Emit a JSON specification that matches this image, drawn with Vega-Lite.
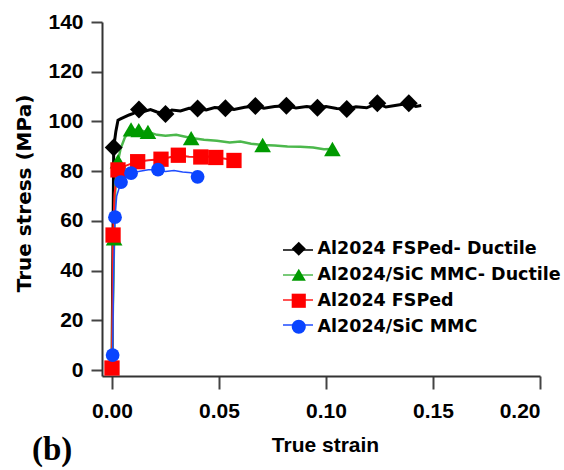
{
  "$schema": "https://vega.github.io/schema/vega-lite/v6.json",
  "width": 438,
  "height": 354,
  "autosize": "none",
  "padding": {"left": 102, "top": 22, "right": 24, "bottom": 94},
  "background": "white",
  "config": {"view": {"stroke": null}},
  "title": {"text": "(b)", "orient": "top", "anchor": "start", "frame": "group", "font": "Liberation Serif", "fontSize": 33, "fontWeight": "bold", "color": "black", "baseline": "bottom", "offset": 0, "dx": -70, "dy": 489},
  "data": {"values": [
    {"series": "Al2024 FSPed- Ductile", "strain": 0, "stress": 0, "m": 0},
    {"series": "Al2024 FSPed- Ductile", "strain": 0.0004, "stress": 45, "m": 0},
    {"series": "Al2024 FSPed- Ductile", "strain": 0.0008, "stress": 89.5, "m": 1},
    {"series": "Al2024 FSPed- Ductile", "strain": 0.0018, "stress": 96, "m": 0},
    {"series": "Al2024 FSPed- Ductile", "strain": 0.0028, "stress": 100.5, "m": 0},
    {"series": "Al2024 FSPed- Ductile", "strain": 0.004, "stress": 101, "m": 0},
    {"series": "Al2024 FSPed- Ductile", "strain": 0.006, "stress": 101.8, "m": 0},
    {"series": "Al2024 FSPed- Ductile", "strain": 0.008, "stress": 102.6, "m": 0},
    {"series": "Al2024 FSPed- Ductile", "strain": 0.010, "stress": 103.2, "m": 0},
    {"series": "Al2024 FSPed- Ductile", "strain": 0.0126, "stress": 104.8, "m": 1},
    {"series": "Al2024 FSPed- Ductile", "strain": 0.015, "stress": 104.0, "m": 0},
    {"series": "Al2024 FSPed- Ductile", "strain": 0.018, "stress": 104.8, "m": 0},
    {"series": "Al2024 FSPed- Ductile", "strain": 0.021, "stress": 103.8, "m": 0},
    {"series": "Al2024 FSPed- Ductile", "strain": 0.025, "stress": 103.0, "m": 1},
    {"series": "Al2024 FSPed- Ductile", "strain": 0.028, "stress": 104.6, "m": 0},
    {"series": "Al2024 FSPed- Ductile", "strain": 0.032, "stress": 104.2, "m": 0},
    {"series": "Al2024 FSPed- Ductile", "strain": 0.036, "stress": 105.3, "m": 0},
    {"series": "Al2024 FSPed- Ductile", "strain": 0.040, "stress": 105.2, "m": 1},
    {"series": "Al2024 FSPed- Ductile", "strain": 0.044, "stress": 104.6, "m": 0},
    {"series": "Al2024 FSPed- Ductile", "strain": 0.048, "stress": 105.6, "m": 0},
    {"series": "Al2024 FSPed- Ductile", "strain": 0.053, "stress": 105.3, "m": 1},
    {"series": "Al2024 FSPed- Ductile", "strain": 0.057, "stress": 104.8, "m": 0},
    {"series": "Al2024 FSPed- Ductile", "strain": 0.062, "stress": 105.7, "m": 0},
    {"series": "Al2024 FSPed- Ductile", "strain": 0.067, "stress": 106.2, "m": 1},
    {"series": "Al2024 FSPed- Ductile", "strain": 0.071, "stress": 105.3, "m": 0},
    {"series": "Al2024 FSPed- Ductile", "strain": 0.076, "stress": 106.0, "m": 0},
    {"series": "Al2024 FSPed- Ductile", "strain": 0.0815, "stress": 106.3, "m": 1},
    {"series": "Al2024 FSPed- Ductile", "strain": 0.086, "stress": 105.4, "m": 0},
    {"series": "Al2024 FSPed- Ductile", "strain": 0.091, "stress": 106.0, "m": 0},
    {"series": "Al2024 FSPed- Ductile", "strain": 0.096, "stress": 105.5, "m": 1},
    {"series": "Al2024 FSPed- Ductile", "strain": 0.100, "stress": 106.0, "m": 0},
    {"series": "Al2024 FSPed- Ductile", "strain": 0.105, "stress": 105.2, "m": 0},
    {"series": "Al2024 FSPed- Ductile", "strain": 0.1097, "stress": 105.0, "m": 1},
    {"series": "Al2024 FSPed- Ductile", "strain": 0.114, "stress": 105.9, "m": 0},
    {"series": "Al2024 FSPed- Ductile", "strain": 0.119, "stress": 105.5, "m": 0},
    {"series": "Al2024 FSPed- Ductile", "strain": 0.124, "stress": 107.3, "m": 1},
    {"series": "Al2024 FSPed- Ductile", "strain": 0.128, "stress": 105.8, "m": 0},
    {"series": "Al2024 FSPed- Ductile", "strain": 0.133, "stress": 106.5, "m": 0},
    {"series": "Al2024 FSPed- Ductile", "strain": 0.1387, "stress": 107.3, "m": 1},
    {"series": "Al2024 FSPed- Ductile", "strain": 0.142, "stress": 106.0, "m": 0},
    {"series": "Al2024 FSPed- Ductile", "strain": 0.1445, "stress": 106.4, "m": 0},
    {"series": "Al2024/SiC MMC- Ductile", "strain": 0, "stress": 0, "m": 0},
    {"series": "Al2024/SiC MMC- Ductile", "strain": 0.0005, "stress": 30, "m": 0},
    {"series": "Al2024/SiC MMC- Ductile", "strain": 0.001, "stress": 53, "m": 1},
    {"series": "Al2024/SiC MMC- Ductile", "strain": 0.0016, "stress": 75, "m": 0},
    {"series": "Al2024/SiC MMC- Ductile", "strain": 0.0028, "stress": 84, "m": 1},
    {"series": "Al2024/SiC MMC- Ductile", "strain": 0.004, "stress": 89, "m": 0},
    {"series": "Al2024/SiC MMC- Ductile", "strain": 0.006, "stress": 93.5, "m": 0},
    {"series": "Al2024/SiC MMC- Ductile", "strain": 0.0089, "stress": 96.8, "m": 1},
    {"series": "Al2024/SiC MMC- Ductile", "strain": 0.0125, "stress": 96.5, "m": 1},
    {"series": "Al2024/SiC MMC- Ductile", "strain": 0.0168, "stress": 95.8, "m": 1},
    {"series": "Al2024/SiC MMC- Ductile", "strain": 0.021, "stress": 94.6, "m": 0},
    {"series": "Al2024/SiC MMC- Ductile", "strain": 0.025, "stress": 94.2, "m": 0},
    {"series": "Al2024/SiC MMC- Ductile", "strain": 0.030, "stress": 94.6, "m": 0},
    {"series": "Al2024/SiC MMC- Ductile", "strain": 0.037, "stress": 93.3, "m": 1},
    {"series": "Al2024/SiC MMC- Ductile", "strain": 0.043, "stress": 92.6, "m": 0},
    {"series": "Al2024/SiC MMC- Ductile", "strain": 0.049, "stress": 92.2, "m": 0},
    {"series": "Al2024/SiC MMC- Ductile", "strain": 0.055, "stress": 91.5, "m": 0},
    {"series": "Al2024/SiC MMC- Ductile", "strain": 0.060, "stress": 91.9, "m": 0},
    {"series": "Al2024/SiC MMC- Ductile", "strain": 0.065, "stress": 91.0, "m": 0},
    {"series": "Al2024/SiC MMC- Ductile", "strain": 0.0704, "stress": 90.5, "m": 1},
    {"series": "Al2024/SiC MMC- Ductile", "strain": 0.076, "stress": 90.3, "m": 0},
    {"series": "Al2024/SiC MMC- Ductile", "strain": 0.082, "stress": 89.9, "m": 0},
    {"series": "Al2024/SiC MMC- Ductile", "strain": 0.088, "stress": 89.8, "m": 0},
    {"series": "Al2024/SiC MMC- Ductile", "strain": 0.094, "stress": 89.5, "m": 0},
    {"series": "Al2024/SiC MMC- Ductile", "strain": 0.099, "stress": 88.8, "m": 0},
    {"series": "Al2024/SiC MMC- Ductile", "strain": 0.103, "stress": 88.9, "m": 1},
    {"series": "Al2024 FSPed", "strain": 0, "stress": 0.8, "m": 1},
    {"series": "Al2024 FSPed", "strain": 0.0005, "stress": 54.3, "m": 1},
    {"series": "Al2024 FSPed", "strain": 0.0012, "stress": 71, "m": 0},
    {"series": "Al2024 FSPed", "strain": 0.0028, "stress": 80.5, "m": 1},
    {"series": "Al2024 FSPed", "strain": 0.006, "stress": 82, "m": 0},
    {"series": "Al2024 FSPed", "strain": 0.009, "stress": 83, "m": 0},
    {"series": "Al2024 FSPed", "strain": 0.012, "stress": 83.8, "m": 1},
    {"series": "Al2024 FSPed", "strain": 0.017, "stress": 84.4, "m": 0},
    {"series": "Al2024 FSPed", "strain": 0.0229, "stress": 84.8, "m": 1},
    {"series": "Al2024 FSPed", "strain": 0.027, "stress": 85.6, "m": 0},
    {"series": "Al2024 FSPed", "strain": 0.031, "stress": 86.4, "m": 1},
    {"series": "Al2024 FSPed", "strain": 0.036, "stress": 85.8, "m": 0},
    {"series": "Al2024 FSPed", "strain": 0.0415, "stress": 85.7, "m": 1},
    {"series": "Al2024 FSPed", "strain": 0.045, "stress": 85.9, "m": 0},
    {"series": "Al2024 FSPed", "strain": 0.0485, "stress": 85.5, "m": 1},
    {"series": "Al2024 FSPed", "strain": 0.053, "stress": 85.0, "m": 0},
    {"series": "Al2024 FSPed", "strain": 0.057, "stress": 84.3, "m": 1},
    {"series": "Al2024/SiC MMC", "strain": 0, "stress": 0, "m": 0},
    {"series": "Al2024/SiC MMC", "strain": 0.0003, "stress": 6, "m": 1},
    {"series": "Al2024/SiC MMC", "strain": 0.0008, "stress": 40, "m": 0},
    {"series": "Al2024/SiC MMC", "strain": 0.0014, "stress": 61.5, "m": 1},
    {"series": "Al2024/SiC MMC", "strain": 0.0022, "stress": 70, "m": 0},
    {"series": "Al2024/SiC MMC", "strain": 0.0042, "stress": 75.6, "m": 1},
    {"series": "Al2024/SiC MMC", "strain": 0.0065, "stress": 77.8, "m": 0},
    {"series": "Al2024/SiC MMC", "strain": 0.0089, "stress": 79.2, "m": 1},
    {"series": "Al2024/SiC MMC", "strain": 0.013, "stress": 80.0, "m": 0},
    {"series": "Al2024/SiC MMC", "strain": 0.017, "stress": 80.6, "m": 0},
    {"series": "Al2024/SiC MMC", "strain": 0.0215, "stress": 80.6, "m": 1},
    {"series": "Al2024/SiC MMC", "strain": 0.025, "stress": 79.9, "m": 0},
    {"series": "Al2024/SiC MMC", "strain": 0.029, "stress": 80.3, "m": 0},
    {"series": "Al2024/SiC MMC", "strain": 0.033, "stress": 79.7, "m": 0},
    {"series": "Al2024/SiC MMC", "strain": 0.037, "stress": 79.4, "m": 0},
    {"series": "Al2024/SiC MMC", "strain": 0.040, "stress": 77.7, "m": 1}
  ]},
  "encoding": {
    "x": {"field": "strain", "type": "quantitative",
      "scale": {"domain": [-0.00467, 0.2], "nice": false, "zero": false},
      "axis": {"title": "True strain", "values": [0, 0.05, 0.1, 0.15, 0.2], "format": ".2f", "grid": false,
        "domainColor": "#333", "domainWidth": 2, "tickColor": "#444", "tickWidth": 2, "tickSize": 13,
        "labelFont": "Liberation Sans", "labelFontSize": 21, "labelFontWeight": "bold", "labelColor": "black", "labelPadding": 11,
        "titleFont": "Liberation Sans", "titleFontSize": 21, "titleFontWeight": "bold", "titleColor": "black",
        "titleX": 223, "titleY": 69, "titleBaseline": "middle", "titleAlign": "center"}},
    "y": {"field": "stress", "type": "quantitative",
      "scale": {"domain": [-2.41, 140], "nice": false, "zero": false},
      "axis": {"title": "True stress (MPa)", "values": [0, 20, 40, 60, 80, 100, 120, 140], "grid": false,
        "domainColor": "#333", "domainWidth": 2, "tickColor": "#444", "tickWidth": 2, "tickSize": 11,
        "labelFont": "Liberation Sans", "labelFontSize": 21, "labelFontWeight": "bold", "labelColor": "black", "labelPadding": 8,
        "titleFont": "DejaVu Sans", "titleFontSize": 20, "titleFontWeight": "bold", "titleColor": "black",
        "titleX": -78, "titleY": 171, "titleAngle": -90, "titleBaseline": "middle", "titleAlign": "center"}}
  },
  "resolve": {"legend": {"stroke": "independent", "fill": "independent", "shape": "independent"}},
  "layer": [
    {
      "mark": {"type": "line", "interpolate": "linear"},
      "encoding": {
        "stroke": {"field": "series", "type": "nominal",
          "scale": {"domain": ["Al2024 FSPed- Ductile", "Al2024/SiC MMC- Ductile", "Al2024 FSPed", "Al2024/SiC MMC"], "range": ["#000000", "#4cb84c", "#ff1a1a", "#1f4dff"]},
          "legend": {"title": null, "orient": "none", "legendX": 180, "legendY": 212, "symbolType": "stroke", "symbolSize": 900,
            "symbolStrokeWidth": 1.5, "labelExpr": "''", "labelFontSize": 17.5,
            "labelOffset": 3, "rowPadding": -5, "padding": 0}},
        "strokeWidth": {"field": "series", "type": "nominal",
          "scale": {"domain": ["Al2024 FSPed- Ductile", "Al2024/SiC MMC- Ductile", "Al2024 FSPed", "Al2024/SiC MMC"], "range": [3, 1.5, 1.5, 1.5]},
          "legend": null}
      }
    },
    {
      "transform": [{"filter": "datum.m == 1"}],
      "mark": {"type": "point", "filled": true, "opacity": 1, "strokeWidth": 0},
      "encoding": {
        "fill": {"field": "series", "type": "nominal",
          "scale": {"domain": ["Al2024 FSPed- Ductile", "Al2024/SiC MMC- Ductile", "Al2024 FSPed", "Al2024/SiC MMC"], "range": ["#000000", "#009a00", "#ff0000", "#0a44ff"]},
          "legend": {"title": null, "orient": "none", "legendX": 188, "legendY": 218, "symbolSize": 200, "symbolStrokeWidth": 0,
            "labelFont": "DejaVu Sans", "labelFontWeight": "bold", "labelFontSize": 17.5, "labelColor": "black", "labelLimit": 400,
            "labelOffset": 10, "rowPadding": 7, "padding": 0}},
        "shape": {"field": "series", "type": "nominal",
          "scale": {"domain": ["Al2024 FSPed- Ductile", "Al2024/SiC MMC- Ductile", "Al2024 FSPed", "Al2024/SiC MMC"], "range": ["diamond", "triangle-up", "square", "circle"]},
          "legend": {"title": null, "orient": "none", "legendX": 188, "legendY": 218, "symbolSize": 200, "symbolStrokeWidth": 0,
            "labelFont": "DejaVu Sans", "labelFontWeight": "bold", "labelFontSize": 17.5, "labelColor": "black", "labelLimit": 400,
            "labelOffset": 10, "rowPadding": 7, "padding": 0}},
        "size": {"field": "series", "type": "nominal",
          "scale": {"domain": ["Al2024 FSPed- Ductile", "Al2024/SiC MMC- Ductile", "Al2024 FSPed", "Al2024/SiC MMC"], "range": [320, 190, 210, 160]},
          "legend": null}
      }
    }
  ]
}
